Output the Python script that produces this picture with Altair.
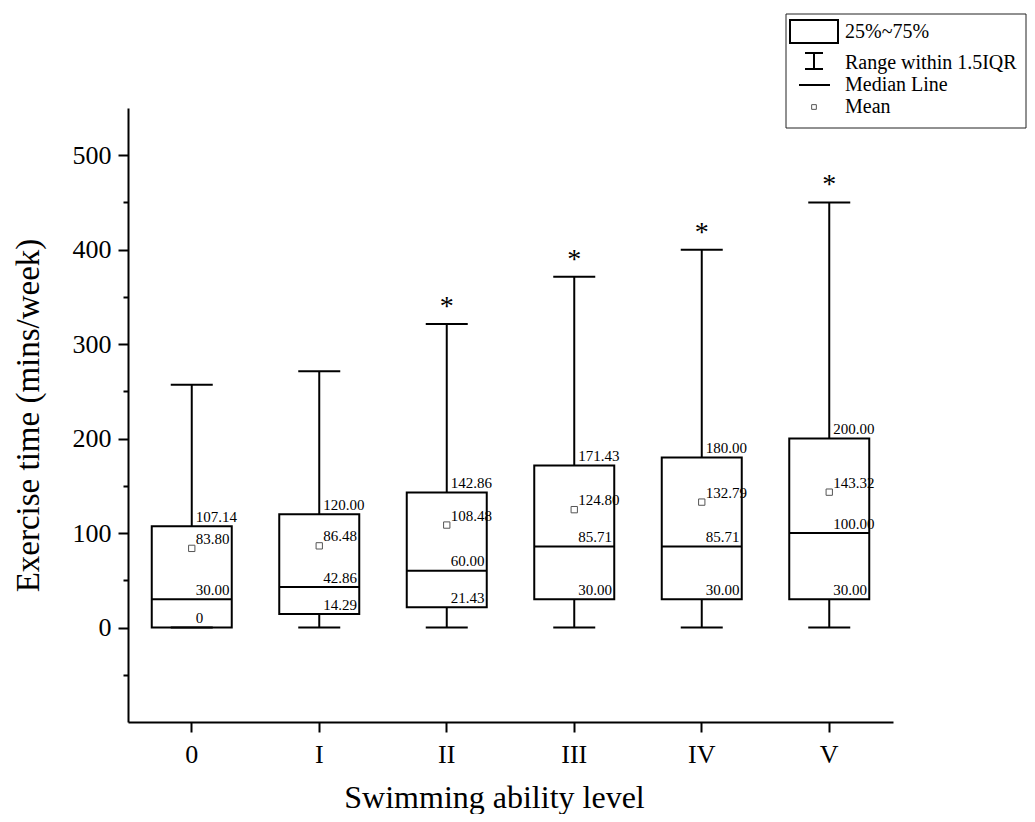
import altair as alt
import pandas as pd

# ---- data ----
levels = ["0", "I", "II", "III", "IV", "V"]
lower = [0, 0, 0, 0, 0, 0]
q1 = [0, 14.29, 21.43, 30.00, 30.00, 30.00]
median = [30.00, 42.86, 60.00, 85.71, 85.71, 100.00]
q3 = [107.14, 120.00, 142.86, 171.43, 180.00, 200.00]
upper = [257.14, 271.43, 321.43, 371.43, 400.00, 450.00]
mean = [83.80, 86.48, 108.48, 124.80, 132.79, 143.32]
significant = [False, False, True, True, True, True]

y_major = [0, 100, 200, 300, 400, 500]
y_minor = [-50, 50, 150, 250, 350, 450]

legend_labels = ["25%~75%", "Range within 1.5IQR", "Median Line", "Mean"]

FONT = "Liberation Serif"
Y_TITLE = "Exercise time (mins/week)"
X_TITLE = "Swimming ability level"

df = pd.DataFrame({"level": levels, "lower": lower, "q1": q1, "median": median,
                   "q3": q3, "upper": upper, "mean": mean})


def fmt(v):
    return "0" if v == 0 else f"{v:.2f}"


label_rows = []
for i, lv in enumerate(levels):
    for v in (q3[i], mean[i], median[i], q1[i]):
        label_rows.append({"level": lv, "value": v, "text": fmt(v)})
labels_df = pd.DataFrame(label_rows)

stars_df = pd.DataFrame({"level": [l for l, s in zip(levels, significant) if s],
                         "upper": [u for u, s in zip(upper, significant) if s]})

minor_df = pd.DataFrame({"v": y_minor})

xscale = alt.Scale(domain=levels, paddingInner=0, paddingOuter=0)
yscale = alt.Scale(domain=[-100, 550], nice=False, zero=False)

xaxis = alt.Axis(labelAngle=0, labelFontSize=26, labelPadding=9, tickSize=10,
                 titleFontSize=32, titleX=366, titleY=85, titleBaseline="alphabetic",
                 titleAlign="center", titleAnchor="middle")
yaxis = alt.Axis(values=y_major, labelFontSize=26, labelPadding=7, tickSize=10,
                 titleFontSize=33, titleX=-100, titleY=307, titleAngle=270,
                 titleBaseline="middle", titleAlign="center", titleAnchor="middle",
                 orient="left")


def X():
    return alt.X("level:N", sort=levels, scale=xscale, axis=xaxis, title=X_TITLE)


def Y(field):
    return alt.Y(f"{field}:Q", scale=yscale, axis=yaxis, title=Y_TITLE)


base = alt.Chart(df)

box = base.mark_bar(size=80, fill="white", stroke="black", strokeWidth=2, opacity=1).encode(
    x=X(), y=Y("q1"), y2="q3")
whisk_up = base.mark_rule(color="black", strokeWidth=2, opacity=1).encode(
    x=X(), y=Y("q3"), y2="upper")
whisk_lo = base.mark_rule(color="black", strokeWidth=2, opacity=1).encode(
    x=X(), y=Y("lower"), y2="q1")
cap_up = base.mark_tick(size=42, thickness=2, color="black", opacity=1).encode(
    x=X(), y=Y("upper"))
cap_lo = base.mark_tick(size=42, thickness=2, color="black", opacity=1).encode(
    x=X(), y=Y("lower"))
med = base.mark_tick(size=80, thickness=2, color="black", opacity=1).encode(
    x=X(), y=Y("median"))
mean_pt = base.mark_point(shape="square", size=40, filled=False, color="#555555",
                          strokeWidth=1, opacity=1).encode(x=X(), y=Y("mean"))

lbl = alt.Chart(labels_df).mark_text(align="left", baseline="middle", dx=4, dy=-9.5,
                                     font=FONT, fontSize=15, color="black").encode(
    x=X(), y=Y("value"), text="text:N")

stars = alt.Chart(stars_df).mark_text(align="center", baseline="alphabetic", dy=-9,
                                      font=FONT, fontSize=28, color="black").encode(
    x=X(), y=Y("upper"), text=alt.value("*"))

main = alt.layer(box, whisk_up, whisk_lo, cap_up, cap_lo, med, mean_pt, lbl, stars)

minor = alt.Chart(minor_df).mark_point(opacity=0).encode(
    y=alt.Y("v:Q", scale=yscale,
            axis=alt.Axis(values=y_minor, labels=False, tickSize=5, domain=False,
                          orient="left", title=None, grid=False)))

# ---- legend (decoration, drawn in pixel space) ----
one = pd.DataFrame({"k": [0]})
leg_box = alt.Chart(one).mark_rect(fill="white", stroke="#222222", strokeWidth=1).encode(
    x=alt.value(658), x2=alt.value(898), y=alt.value(-94), y2=alt.value(20))
leg_rect = alt.Chart(one).mark_rect(fill="white", stroke="black", strokeWidth=2).encode(
    x=alt.value(662), x2=alt.value(710), y=alt.value(-88), y2=alt.value(-65))
leg_ibeam = alt.Chart(one).mark_rule(color="black", strokeWidth=2).encode(
    x=alt.value(686), y=alt.value(-55), y2=alt.value(-39))
leg_cap1 = alt.Chart(one).mark_rule(color="black", strokeWidth=2).encode(
    x=alt.value(677), x2=alt.value(695), y=alt.value(-55))
leg_cap2 = alt.Chart(one).mark_rule(color="black", strokeWidth=2).encode(
    x=alt.value(677), x2=alt.value(695), y=alt.value(-39))
leg_line = alt.Chart(one).mark_rule(color="black", strokeWidth=2).encode(
    x=alt.value(671), x2=alt.value(702), y=alt.value(-23))
leg_mean = alt.Chart(one).mark_point(shape="square", size=22, filled=False,
                                     color="#555555", strokeWidth=1, opacity=1).encode(
    x=alt.value(686), y=alt.value(-1))
leg_texts = []
for lab, yy in zip(legend_labels, [-76, -45, -23, -1]):
    leg_texts.append(alt.Chart(one).mark_text(align="left", baseline="middle", font=FONT,
                                              fontSize=20, color="black").encode(
        x=alt.value(717), y=alt.value(yy), text=alt.value(lab)))

legend = alt.layer(leg_box, leg_rect, leg_ibeam, leg_cap1, leg_cap2, leg_line, leg_mean,
                   *leg_texts)

chart = alt.layer(main, minor, legend).resolve_axis(y="independent").properties(
    width=765, height=614,
    background="white",
    autosize=alt.AutoSizeParams(type="none"),
    padding={"left": 120, "top": 100, "right": 134, "bottom": 92},
).configure_view(stroke=None).configure_axis(
    domainColor="black", domainWidth=2, tickColor="black", tickWidth=2,
    labelColor="black", titleColor="black", labelFont=FONT, titleFont=FONT,
    titleFontWeight="normal", grid=False,
)

chart.save("out.html", embed_options={"renderer": "svg", "actions": False})
